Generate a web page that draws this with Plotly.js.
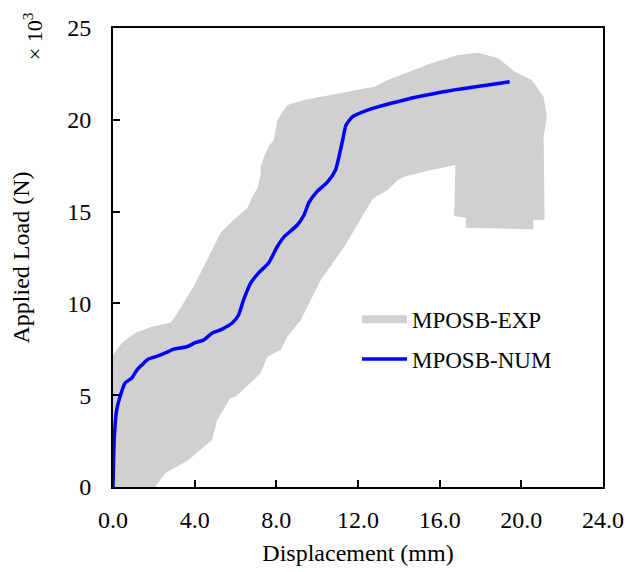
<!DOCTYPE html>
<html>
<head>
<meta charset="utf-8">
<script src="https://cdn.plot.ly/plotly-3.0.1.min.js"></script>
<style>html,body{margin:0;padding:0;background:#fff;}#chart{width:625px;height:572px;}</style>
</head>
<body>
<div id="chart"></div>
<script>
// Numerical curve (displacement mm, load kN)
const numX = [0.0, 0.03, 0.06, 0.12, 0.18, 0.34, 0.59, 0.92, 1.17, 1.41, 1.73, 2.21, 2.56, 2.95, 3.62, 4.03, 4.43, 4.85, 5.35, 5.84, 6.15, 6.4, 6.74, 7.13, 7.62, 8.05, 8.36, 9.03, 9.35, 9.6, 10.0, 10.5, 10.9, 11.07, 11.25, 11.41, 11.74, 12.47, 13.62, 14.94, 16.57, 19.43];
const numY = [0.0, 1.5, 2.6, 3.6, 4.2, 4.9, 5.66, 5.94, 6.37, 6.64, 6.97, 7.14, 7.3, 7.5, 7.64, 7.86, 8.0, 8.38, 8.6, 8.93, 9.37, 10.2, 11.1, 11.66, 12.2, 13.1, 13.6, 14.27, 14.8, 15.5, 16.1, 16.6, 17.27, 18.0, 18.9, 19.7, 20.17, 20.53, 20.9, 21.26, 21.6, 22.07];

// Experimental envelope outline (displacement mm, load kN)
const expX = [0.0, 0.0, 0.43, 1.08, 1.90, 2.80, 3.05, 3.54, 3.94, 4.61, 5.26, 5.90, 6.58, 6.82, 7.08, 7.23, 7.23, 7.43, 7.62, 7.87, 8.05, 8.54, 9.35, 12.79, 13.46, 15.59, 16.91, 17.89, 18.87, 19.68, 20.51, 21.09, 21.25, 21.09, 21.14, 20.59, 20.59, 17.28, 17.28, 16.71, 16.77, 15.59, 14.26, 13.95, 13.46, 12.73, 11.33, 10.18, 9.20, 8.54, 8.21, 7.56, 7.23, 6.00, 5.75, 5.10, 4.85, 3.70, 2.56, 2.07, 2.05];
const expY = [0.0, 7.19, 7.84, 8.39, 8.73, 8.95, 9.28, 10.19, 10.91, 12.36, 13.83, 14.54, 15.20, 15.81, 16.29, 16.99, 17.45, 18.08, 18.53, 18.90, 19.99, 20.81, 21.08, 21.80, 22.17, 23.08, 23.53, 23.65, 23.35, 22.62, 22.17, 21.26, 20.17, 19.08, 14.54, 14.54, 14.04, 14.12, 14.67, 14.76, 17.54, 17.27, 16.90, 16.72, 16.18, 15.72, 13.09, 11.27, 9.10, 8.19, 7.46, 7.10, 6.19, 4.92, 4.85, 3.65, 2.56, 1.47, 0.75, 0.02, 0.0];

const xTicks = [0, 4, 8, 12, 16, 20, 24];
const yTicks = [0, 5, 10, 15, 20, 25];

const GRAY = '#d1d0d1';
const BLUE = '#0000ff';
const FONT = 'Liberation Serif, Times New Roman, serif';

const traces = [
  {x: expX, y: expY, type: 'scatter', mode: 'lines', fill: 'toself', fillcolor: GRAY,
   line: {width: 0, color: GRAY}, name: 'MPOSB-EXP', showlegend: false, legendgroup: 'exp', hoverinfo: 'skip'},
  {x: [null], y: [null], type: 'scatter', mode: 'lines', line: {width: 8, color: GRAY},
   name: 'MPOSB-EXP', legendgroup: 'exp'},
  {x: numX, y: numY, type: 'scatter', mode: 'lines', line: {width: 3.5, color: BLUE, shape: 'spline', smoothing: 0.6},
   name: 'MPOSB-NUM', legendgroup: 'num'}
];

const layout = {
  width: 625, height: 572,
  margin: {l: 113, r: 22, t: 28, b: 85},
  paper_bgcolor: '#fff', plot_bgcolor: '#fff',
  font: {family: FONT, size: 24, color: '#000'},
  showlegend: true,
  legend: {x: 0.498, y: 0.322, xanchor: 'left', yanchor: 'middle', bgcolor: 'rgba(0,0,0,0)',
           font: {family: FONT, size: 23, color: '#000'}, itemwidth: 45, traceorder: 'grouped', tracegroupgap: 7},
  xaxis: {range: [0, 24], tickvals: xTicks, ticktext: xTicks.map(v => v.toFixed(1)),
          ticks: 'inside', ticklen: 7, tickwidth: 2, tickcolor: '#000', ticklabelstandoff: 10,
          showline: true, linewidth: 2, linecolor: '#000', mirror: true, showgrid: false, zeroline: false,
          title: {text: 'Displacement (mm)', font: {family: FONT, size: 24}, standoff: 12},
          tickfont: {family: FONT, size: 24}, fixedrange: true, automargin: false},
  yaxis: {range: [0, 25], tickvals: yTicks, ticks: 'inside', ticklen: 7, tickwidth: 2, tickcolor: '#000', ticklabelstandoff: 15,
          showline: true, linewidth: 2, linecolor: '#000', mirror: true, showgrid: false, zeroline: false,
          title: {text: 'Applied Load (N)', font: {family: FONT, size: 24}, standoff: 31},
          tickfont: {family: FONT, size: 24}, fixedrange: true, automargin: false},
  annotations: [{xref: 'paper', yref: 'paper', x: -0.163, y: 0.9825, xanchor: 'center', yanchor: 'middle',
                 text: '× 10<sup>3</sup>', showarrow: false,
                 textangle: -90, font: {family: FONT, size: 22, color: '#000'}}]
};

Plotly.newPlot('chart', traces, layout, {staticPlot: true, displayModeBar: false});
</script>
</body>
</html>
